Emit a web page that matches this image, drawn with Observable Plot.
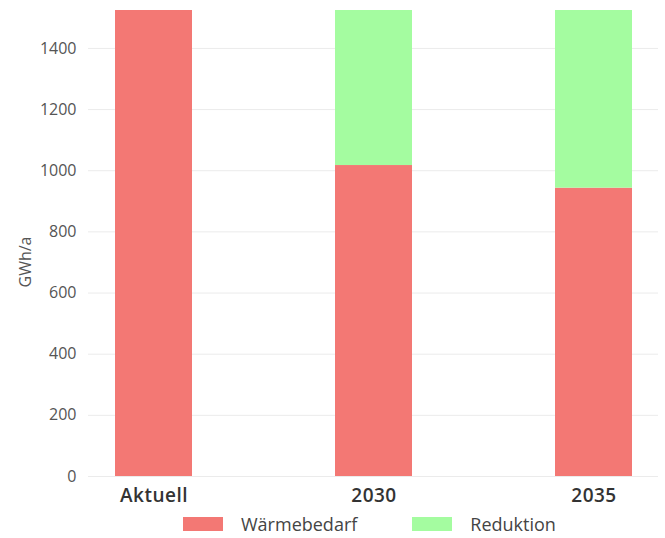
<!DOCTYPE html>
<html>
<head>
<meta charset="utf-8">
<script src="https://cdn.jsdelivr.net/npm/d3@7"></script>
<script src="https://cdn.jsdelivr.net/npm/@observablehq/plot@0.6"></script>
<style>
  body { margin: 0; background: #fff; font-family: "Open Sans", sans-serif; }
  #chart { position: relative; width: 665px; }
  .legend { display: flex; justify-content: flex-start; align-items: center; margin-top: 2px; font-size: 18px; color: #444; padding-left: 183px; }
  .legend .item { display: flex; align-items: center; }
  .legend .item + .item { margin-left: 55px; }
  .legend .sw { width: 40px; height: 14px; margin-right: 18px; }
</style>
</head>
<body>
<div id="chart"></div>
<script>
const categories = ["Aktuell", "2030", "2035"];
const seriesNames = ["Wärmebedarf", "Reduktion"];
const waermebedarf = [1524, 1017, 943];
const reduktion = [0, 507, 581];
const colors = ["#F37874", "#A4FCA0"];
const yTicks = [0, 200, 400, 600, 800, 1000, 1200, 1400];

const rows = [];
categories.forEach((c, i) => {
  rows.push({cat: c, series: seriesNames[0], value: waermebedarf[i]});
  rows.push({cat: c, series: seriesNames[1], value: reduktion[i]});
});

const plot = Plot.plot({
  width: 665,
  height: 510,
  marginLeft: 88,
  marginRight: 7,
  marginTop: 10,
  marginBottom: 34,
  style: {fontFamily: "Open Sans, sans-serif", background: "#fff"},
  x: {domain: categories, range: [43, 703], paddingInner: 0.65, paddingOuter: 0.325, label: null},
  y: {domain: [0, 1524], ticks: yTicks, label: null},
  color: {domain: seriesNames, range: colors},
  marks: [
    Plot.gridY(yTicks, {stroke: "#ebebeb", strokeOpacity: 1, strokeWidth: 1}),
    Plot.axisY({ticks: yTicks, tickFormat: d3.format("d"), tickSize: 0, tickPadding: 12, fontSize: 16, fill: "#555", label: null}),
    Plot.axisX({tickSize: 0, tickPadding: 12, fontSize: 19, fill: "#333", label: null}),
    Plot.barY(rows, Plot.stackY({x: "cat", y: "value", fill: "series", order: seriesNames}))
  ]
});

const svg = d3.select(plot);
svg.selectAll("[aria-label='x-axis tick label'] text").each(function(d) {
  d3.select(this).attr("font-weight", d === "Aktuell" ? 700 : 600).attr("letter-spacing", "0.5px");
});
svg.append("text")
  .attr("transform", "translate(31,262) rotate(-90)")
  .attr("text-anchor", "middle")
  .style("font-size", "16px")
  .attr("fill", "#555")
  .attr("font-family", "Open Sans, sans-serif")
  .text("GWh/a");

const container = document.getElementById("chart");
container.appendChild(plot);

const legend = document.createElement("div");
legend.className = "legend";
seriesNames.forEach((s, i) => {
  const item = document.createElement("div");
  item.className = "item";
  const sw = document.createElement("span");
  sw.className = "sw";
  sw.style.background = colors[i];
  const t = document.createElement("span");
  t.textContent = s;
  item.appendChild(sw);
  item.appendChild(t);
  legend.appendChild(item);
});
container.appendChild(legend);
</script>
</body>
</html>
